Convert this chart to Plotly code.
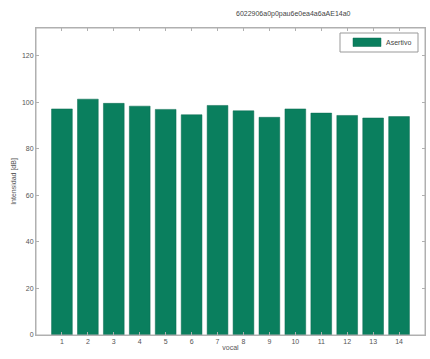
import plotly.graph_objects as go

vocales = list(range(1, 15))
intensidad = [97.2, 101.4, 99.6, 98.4, 97.0, 94.7, 98.7, 96.4, 93.6, 97.2, 95.4, 94.4, 93.3, 93.9]
serie = "Asertivo"
titulo = "6022906a0p0pau6e0ea4a6aAE14a0"

W, H = 430, 359
L, R, T, B = 36, 5, 28, 24
pw, ph = W - L - R, H - T - B

def px(x):
    return (x - L) / pw

def py(y):
    return (H - B - y) / ph

bar_color = "#0a7f5e"

fig = go.Figure()
fig.add_trace(go.Bar(x=vocales, y=intensidad, name=serie, width=0.8,
                     marker=dict(color=bar_color, line=dict(color="#0a6a50", width=0.5)),
                     showlegend=False))

font = dict(family="Liberation Sans", size=7, color="#555")
axis_common = dict(showline=True, linecolor="#b0b0b0", linewidth=1, mirror="allticks",
                   ticks="inside", ticklen=3, tickcolor="#b0b0b0", showgrid=False,
                   zeroline=False, tickfont=font)

shapes = [
    dict(type="rect", xref="paper", yref="paper", x0=0, x1=1, y0=0, y1=1,
         line=dict(color="#b0b0b0", width=1), layer="above"),
    dict(type="rect", xref="paper", yref="paper", x0=px(340), x1=px(418), y0=py(52), y1=py(33),
         line=dict(color="#999", width=1), fillcolor="white", layer="above"),
    dict(type="rect", xref="paper", yref="paper", x0=px(353), x1=px(381), y0=py(46.5), y1=py(38),
         line=dict(color="#0a6a50", width=0.5), fillcolor=bar_color, layer="above"),
]

annotations = [
    dict(text=titulo, x=px(293), y=py(14), xref="paper", yref="paper", showarrow=False,
         xanchor="center", yanchor="middle", font=dict(family="Liberation Sans", size=7, color="#444")),
    dict(text=serie, x=px(384), y=py(42.5), xref="paper", yref="paper", showarrow=False,
         xanchor="left", yanchor="middle", font=dict(family="Liberation Sans", size=7, color="#444")),
]

fig.update_layout(
    width=W, height=H,
    margin=dict(l=L, r=R, t=T, b=B),
    paper_bgcolor="white", plot_bgcolor="white",
    xaxis=dict(range=[0, 15], tickmode="array", tickvals=vocales,
               ticktext=[str(v) for v in vocales],
               title=dict(text="vocal", font=font, standoff=0),
               **axis_common),
    yaxis=dict(range=[0, 132], tickmode="array", tickvals=[0, 20, 40, 60, 80, 100, 120],
               title=dict(text="Intensidad [dB]", font=font, standoff=4),
               **axis_common),
    shapes=shapes,
    annotations=annotations,
)

fig.write_html("out.html",
               config={"displayModeBar": False},
               post_script="document.body.style.margin='0';document.body.style.overflow='hidden';")
